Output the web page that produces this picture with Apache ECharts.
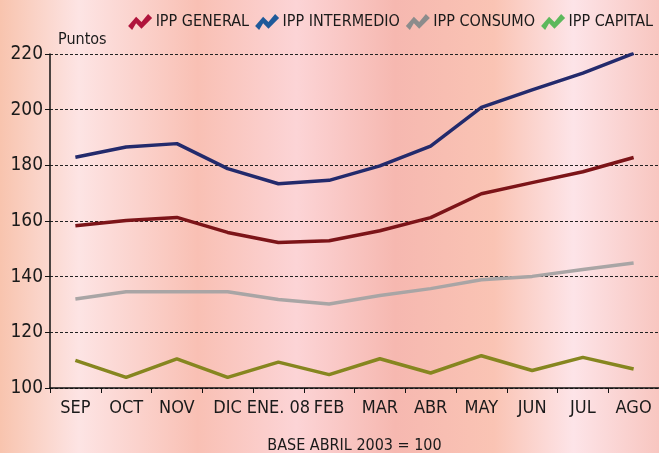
<!DOCTYPE html>
<html>
<head>
<meta charset="utf-8">
<script src="https://cdn.jsdelivr.net/npm/echarts@6/dist/echarts.min.js"></script>
<style>
  html, body { margin: 0; padding: 0; }
  #chart { width: 659px; height: 453px; }
</style>
</head>
<body>
<div id="chart"></div>
<script>
const months = ['SEP', 'OCT', 'NOV', 'DIC', 'ENE. 08', 'FEB', 'MAR', 'ABR', 'MAY', 'JUN', 'JUL', 'AGO'];
const ippGeneral = [158.3, 160.2, 161.3, 155.9, 152.3, 152.9, 156.5, 161.2, 169.8, 173.8, 177.7, 182.8];
const ippIntermedio = [182.9, 186.6, 187.8, 178.8, 173.4, 174.6, 179.8, 186.9, 200.8, 207.1, 213.1, 220.2];
const ippConsumo = [132.0, 134.6, 134.6, 134.6, 131.8, 130.2, 133.2, 135.7, 138.9, 140.1, 142.6, 144.9];
const ippCapital = [109.9, 103.8, 110.5, 103.8, 109.3, 104.8, 110.5, 105.4, 111.6, 106.3, 111.0, 106.8];
const yTicks = [100, 120, 140, 160, 180, 200, 220];

const font = "'DejaVu Sans Condensed', 'Liberation Sans', sans-serif";
// zigzag legend mark
const zigzag = 'path://M0,9 L6,2 L10,6 L15,0 L18,3 L10,11 L6,7 L3,12 Z';

const chart = echarts.init(document.getElementById('chart'));

const makeLine = (name, data, color) => ({
  name,
  type: 'line',
  data,
  symbol: 'none',
  lineStyle: { color, width: 3.5 },
  itemStyle: { color },
});

chart.setOption({
  backgroundColor: {
    type: 'linear', x: 0, y: 0, x2: 1, y2: 0,
    colorStops: [
      { offset: 0, color: '#f8c4ae' },
      { offset: 0.12, color: '#fde4e4' },
      { offset: 0.3, color: '#f9c0b4' },
      { offset: 0.45, color: '#fcd4d6' },
      { offset: 0.6, color: '#f6b8b0' },
      { offset: 0.75, color: '#fac4b4' },
      { offset: 0.87, color: '#fde4e8' },
      { offset: 1, color: '#f8c6c0' },
    ],
  },
  textStyle: { fontFamily: font },
  legend: {
    top: 9,
    right: 1,
    itemWidth: 27,
    itemHeight: 16,
    itemGap: 6,
    textStyle: { fontFamily: font, fontSize: 16, color: '#1a1a1a', padding: [0, 0, 0, -3] },
    data: [
      { name: 'IPP GENERAL', icon: zigzag, itemStyle: { color: '#b0143c' } },
      { name: 'IPP INTERMEDIO', icon: zigzag, itemStyle: { color: '#1f5a9a' } },
      { name: 'IPP CONSUMO', icon: zigzag, itemStyle: { color: '#8c8c8c' } },
      { name: 'IPP CAPITAL', icon: zigzag, itemStyle: { color: '#5cb85c' } },
    ],
  },
  grid: { left: 50, right: 0, top: 54, bottom: 65, outerBoundsMode: 'none' },
  xAxis: {
    type: 'category',
    data: months,
    boundaryGap: true,
    name: 'BASE ABRIL 2003 = 100',
    nameLocation: 'middle',
    nameGap: 50,
    nameTextStyle: { fontFamily: font, fontSize: 16, color: '#1a1a1a' },
    axisLine: { lineStyle: { color: '#111', width: 1.5 } },
    axisTick: { show: true, length: 5, lineStyle: { color: '#111' } },
    axisLabel: { interval: 0, fontFamily: font, fontSize: 18, color: '#1a1a1a', margin: 11 },
    splitLine: { show: false },
  },
  yAxis: {
    type: 'value',
    min: yTicks[0],
    max: yTicks[yTicks.length - 1],
    interval: 20,
    name: 'Puntos',
    nameLocation: 'end',
    nameGap: 6,
    nameTextStyle: { fontFamily: font, fontSize: 16, color: '#1a1a1a', align: 'left', padding: [0, 0, 0, 8] },
    axisLine: { show: true, lineStyle: { color: '#111', width: 1.5 } },
    axisTick: { show: true, inside: false, length: 5, lineStyle: { color: '#111' } },
    axisLabel: { fontFamily: font, fontSize: 19, color: '#1a1a1a', margin: 7 },
    splitLine: { show: true, lineStyle: { color: '#222', type: [3, 2], width: 1 } },
  },
  series: [
    makeLine('IPP GENERAL', ippGeneral, '#7c1418'),
    makeLine('IPP INTERMEDIO', ippIntermedio, '#232a6c'),
    makeLine('IPP CONSUMO', ippConsumo, '#a9a5a5'),
    makeLine('IPP CAPITAL', ippCapital, '#86861f'),
  ],
});
</script>
</body>
</html>
